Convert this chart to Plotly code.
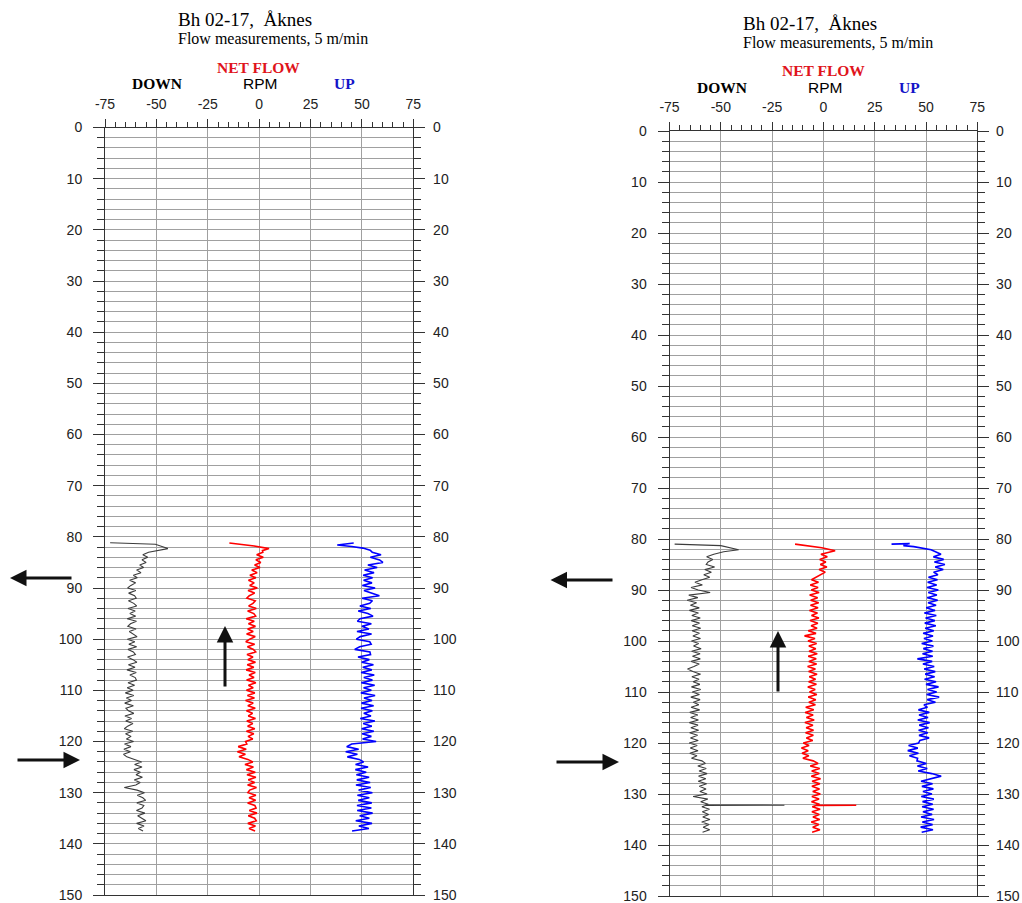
import numpy as np
import plotly.graph_objects as go

W, H = 1022, 903

# ---------------- data (RPM vs depth, m) ----------------
# regular 0.5 m sampling of the log body, 83.0 .. 137.5 m
BODY_DEPTH = list(np.arange(83.0, 138.0, 0.5))

# ---- left log ----
L_DOWN_HEAD_D = [81.15, 81.45, 82.3, 82.8]
L_DOWN_HEAD_V = [-72.5, -50.5, -44.4, -50.8]
L_DOWN = [
    -53.8, -56.6, -54.2, -57.0, -55.0, -58.1, -56.2, -59.6, -57.5, -61.2,
    -59.3, -63.0, -60.1, -62.4, -64.0, -60.0, -63.5, -60.6, -59.8, -63.6,
    -61.0, -59.6, -63.8, -60.3, -62.9, -60.1, -64.2, -59.7, -62.6, -63.9,
    -59.9, -63.2, -61.0, -59.4, -64.1, -60.5, -63.4, -59.6, -63.8, -61.2,
    -60.2, -64.0, -61.4, -59.5, -63.6, -60.4, -64.3, -59.8, -62.9, -60.3,
    -59.7, -63.8, -60.6, -64.2, -61.3, -65.1, -61.0, -64.6, -62.1, -65.4,
    -61.2, -64.8, -63.6, -61.0, -65.3, -62.1, -64.9, -61.4, -64.0, -65.6,
    -61.5, -65.0, -62.3, -64.6, -61.1, -65.5, -62.4, -65.8, -62.6, -66.0,
    -64.4, -60.3, -57.2, -60.6, -57.0, -60.9, -57.8, -59.9, -56.8, -60.7,
    -57.9, -60.0, -65.6, -59.4, -55.8, -59.3, -56.6, -55.2, -59.5, -56.1,
    -57.0, -59.7, -55.6, -59.1, -57.4, -55.1, -59.6, -56.0, -58.8, -56.5,
]
L_NET_HEAD_D = [81.2, 81.5, 81.8, 82.3, 82.7]
L_NET_HEAD_V = [-14.5, -8.0, -2.4, 4.8, 1.6]
L_NET = [
    1.8, -1.2, 2.0, -1.6, 0.8, -2.2, 0.4, -3.6, -1.0, -4.5,
    -1.6, -5.2, -2.4, -4.6, -0.9, -5.4, -2.2, -4.8, -6.0, -1.9,
    -3.0, -5.1, -1.4, -5.6, -2.6, -1.7, -6.3, -2.4, -5.2, -1.8,
    -5.6, -2.9, -6.1, -1.9, -4.6, -6.5, -2.2, -5.7, -2.8, -1.7,
    -5.9, -3.0, -5.5, -1.8, -5.8, -2.6, -6.3, -1.9, -4.9, -2.5,
    -6.1, -1.6, -5.2, -2.9, -6.2, -2.1, -5.7, -2.3, -6.6, -2.9,
    -5.5, -1.9, -6.2, -3.2, -5.3, -1.8, -6.0, -3.1, -5.6, -2.1,
    -6.2, -2.6, -5.4, -3.1, -6.6, -6.0, -10.2, -6.3, -10.6, -6.7,
    -9.8, -5.5, -3.1, -6.9, -2.8, -6.2, -1.9, -5.9, -1.6, -5.3,
    -2.2, -5.6, -1.3, -4.6, -5.5, -1.6, -4.9, -1.7, -5.6, -2.1,
    -1.5, -4.8, -1.1, -5.3, -2.2, -1.4, -5.5, -1.8, -4.9, -2.0,
]
L_UP_HEAD_D = [81.2, 81.6, 81.9, 82.2, 82.6]
L_UP_HEAD_V = [46.0, 38.0, 45.0, 50.5, 54.0]
L_UP = [
    55.0, 59.3, 54.1, 58.6, 60.2, 52.9, 57.4, 51.3, 55.9, 50.6,
    55.2, 50.8, 54.9, 50.2, 56.4, 51.0, 54.6, 58.5, 50.1, 55.1,
    53.8, 49.0, 54.3, 48.2, 52.9, 55.4, 49.1, 47.8, 54.6, 50.0,
    53.4, 47.6, 54.7, 49.2, 47.3, 53.8, 54.5, 48.9, 46.5, 53.9,
    54.2, 48.1, 53.6, 49.9, 55.6, 50.4, 54.8, 49.6, 56.0, 50.9,
    55.1, 49.7, 56.2, 50.8, 54.6, 49.5, 56.4, 51.0, 54.9, 49.8,
    55.7, 49.6, 55.1, 50.9, 54.4, 49.2, 56.3, 50.6, 54.8, 49.9,
    55.8, 50.1, 54.6, 50.3, 56.9, 45.0, 42.6, 48.4, 42.1, 47.8,
    42.9, 48.7, 50.8, 46.9, 53.0, 46.8, 52.1, 47.3, 53.5, 47.5,
    54.0, 47.1, 54.3, 48.4, 55.1, 47.8, 53.6, 48.2, 54.8, 47.6,
    54.6, 47.7, 55.2, 48.9, 53.6, 47.0, 54.9, 48.5, 53.4, 45.2,
]

# ---- right log ----
R_DOWN_HEAD_D = [81.0, 81.3, 82.1, 82.5]
R_DOWN_HEAD_V = [-72.5, -50.0, -41.3, -48.6]
R_DOWN = [
    -53.4, -56.9, -53.9, -56.2, -57.1, -53.0, -57.8, -54.6, -58.3, -55.4,
    -59.2, -62.6, -59.0, -64.5, -61.0, -55.2, -65.6, -61.2, -66.4, -61.8,
    -64.8, -60.5, -65.3, -60.9, -64.1, -60.0, -64.4, -60.4, -63.9, -59.8,
    -64.0, -60.4, -63.6, -59.9, -64.3, -60.8, -63.3, -59.6, -64.2, -60.1,
    -63.8, -60.0, -64.4, -60.5, -63.1, -66.2, -63.6, -59.9, -64.1, -60.6,
    -63.5, -60.2, -64.3, -59.8, -63.9, -60.4, -64.6, -60.1, -63.4, -60.7,
    -64.5, -60.3, -65.1, -61.2, -64.7, -60.9, -65.3, -61.1, -64.6, -60.8,
    -65.2, -61.3, -64.8, -61.0, -65.4, -61.5, -64.9, -61.1, -65.1, -61.6,
    -64.3, -59.2, -57.5, -61.2, -57.1, -60.6, -56.7, -60.8, -57.3, -61.0,
    -56.9, -60.5, -57.2, -60.2, -56.7, -63.5, -56.3, -59.8, -56.1, -59.2,
    -55.5, -59.0, -55.9, -58.8, -55.3, -59.3, -55.7, -58.6, -55.4, -58.9,
]
R_DOWN_SPIKE_D = [132.15, 132.2, 132.25]
R_DOWN_SPIKE_V = [-57.5, -19.0, -57.5]

R_NET_HEAD_D = [81.0, 81.3, 81.7, 82.3, 82.7]
R_NET_HEAD_V = [-13.8, -7.0, -0.8, 5.7, 1.6]
R_NET = [
    -1.2, 1.9, -1.8, 1.2, -1.5, 1.7, -2.1, 0.9, -1.6, -3.4,
    -5.8, -2.4, -6.4, -2.6, -5.9, -2.1, -6.7, -2.8, -6.2, -2.3,
    -6.3, -2.6, -6.8, -2.9, -5.8, -2.2, -6.5, -2.7, -6.0, -3.1,
    -7.4, -3.6, -9.2, -4.1, -7.5, -3.3, -7.1, -3.7, -7.0, -3.0,
    -7.4, -3.5, -7.1, -3.3, -7.7, -3.9, -7.2, -3.1, -6.9, -3.8,
    -7.2, -3.4, -7.6, -4.0, -6.8, -3.2, -7.4, -3.7, -7.1, -3.9,
    -8.6, -4.7, -8.9, -5.0, -8.3, -4.5, -9.0, -5.1, -8.4, -4.8,
    -8.7, -4.9, -8.3, -5.2, -9.8, -7.0, -10.7, -7.4, -10.4, -7.1,
    -10.0, -5.0, -2.6, -6.4, -1.8, -5.7, -2.0, -5.9, -1.4, -5.5,
    -1.7, -5.6, -1.9, -5.2, -1.5, -5.6, -2.1, -5.8, -1.9, -5.4,
    -1.6, -5.6, -2.0, -5.1, -1.8, -5.9, -2.2, -5.2, -1.7, -5.5,
]
R_NET_SPIKE_D = [132.15, 132.2, 132.25]
R_NET_SPIKE_V = [-3.6, 16.0, -3.6]

R_UP_HEAD_D = [81.0, 80.9, 81.3, 81.5, 82.1, 82.6]
R_UP_HEAD_V = [33.2, 42.0, 39.0, 44.0, 52.5, 55.5]
R_UP = [
    57.3, 53.6, 58.6, 54.1, 59.2, 54.5, 58.4, 53.7, 55.8, 51.2,
    55.6, 50.8, 55.2, 50.5, 56.0, 51.1, 55.3, 50.6, 55.7, 51.0,
    54.9, 50.1, 54.4, 49.2, 55.0, 49.8, 54.3, 49.4, 54.8, 49.6,
    53.8, 48.6, 53.4, 49.0, 53.1, 47.9, 53.6, 48.7, 53.2, 48.3,
    53.3, 45.8, 53.0, 48.5, 54.0, 49.1, 54.5, 49.6, 54.2, 49.3,
    54.9, 50.0, 56.1, 50.7, 55.2, 50.3, 56.4, 50.6, 54.6, 49.0,
    50.7, 46.3, 51.6, 46.6, 51.0, 46.0, 51.8, 46.7, 51.2, 46.4,
    50.9, 46.6, 51.5, 47.0, 46.4, 41.5, 46.0, 41.1, 46.3, 41.9,
    45.9, 45.6, 50.2, 45.8, 50.6, 46.2, 52.8, 57.4, 52.0, 47.6,
    53.2, 48.0, 53.6, 48.5, 52.9, 47.7, 53.8, 48.3, 53.3, 48.1,
    53.7, 48.5, 53.0, 47.6, 53.9, 48.2, 53.2, 47.4, 53.4, 47.9,
]

X_TICKS = [-75, -50, -25, 0, 25, 50, 75]
X_TICKTEXT = ["-75", "-50", "-25", "0", "25", "50", "75"]
DEPTH_TICKS = list(range(0, 151, 10))

TITLE = "Bh 02-17,\u00a0 Åknes"
SUBTITLE = "Flow measurements, 5 m/min"

# ---------------- helpers ----------------
def build(head_d, head_v, body_v, spike_d=(), spike_v=()):
    assert len(body_v) == len(BODY_DEPTH), len(body_v)
    d = list(head_d) + [float(x) for x in BODY_DEPTH]
    v = list(head_v) + list(body_v)
    if spike_d:
        idx = max(i for i, dd in enumerate(d) if dd < spike_d[0]) + 1
        d = d[:idx] + list(spike_d) + d[idx:]
        v = v[:idx] + list(spike_v) + v[idx:]
    return d, v


GRID = "#a0a0a0"
AX = "#333333"
SANS = "Liberation Sans, Arial, sans-serif"
SERIF = "Liberation Serif, Times New Roman, serif"

fig = go.Figure()

panels = [
    dict(x="x", y="y", y_right="y3",
         series=[(L_DOWN_HEAD_D, L_DOWN_HEAD_V, L_DOWN, (), (), "#3c3c3c", 1.1),
                 (L_NET_HEAD_D, L_NET_HEAD_V, L_NET, (), (), "#ff0000", 1.6),
                 (L_UP_HEAD_D, L_UP_HEAD_V, L_UP, (), (), "#0000ff", 1.6)]),
    dict(x="x2", y="y2", y_right="y4",
         series=[(R_DOWN_HEAD_D, R_DOWN_HEAD_V, R_DOWN, R_DOWN_SPIKE_D, R_DOWN_SPIKE_V, "#3c3c3c", 1.1),
                 (R_NET_HEAD_D, R_NET_HEAD_V, R_NET, R_NET_SPIKE_D, R_NET_SPIKE_V, "#ff0000", 1.6),
                 (R_UP_HEAD_D, R_UP_HEAD_V, R_UP, (), (), "#0000ff", 1.6)]),
]
for p in panels:
    for hd, hv, bv, sd, sv, col, lw in p["series"]:
        d, v = build(hd, hv, bv, sd, sv)
        fig.add_trace(go.Scatter(x=v, y=d, mode="lines", xaxis=p["x"], yaxis=p["y"],
                                 line=dict(color=col, width=lw), showlegend=False,
                                 hoverinfo="skip"))
    # empty trace so the right-hand depth axis is registered and drawn
    fig.add_trace(go.Scatter(x=[None], y=[None], mode="lines", xaxis=p["x"],
                             yaxis=p["y_right"], showlegend=False, hoverinfo="skip"))


def px_x(p):
    return p / W


def px_y(p):
    return 1 - p / H


def xaxis(domain, anchor):
    return dict(domain=domain, anchor=anchor, side="top", range=[-75, 75],
                automargin=False,
                tickmode="array", tickvals=X_TICKS, ticktext=X_TICKTEXT,
                ticks="outside", ticklen=8, tickwidth=1, tickcolor=AX,
                showline=True, mirror=True, linecolor=AX, linewidth=1,
                showgrid=True, gridcolor=GRID, gridwidth=1, zeroline=False,
                tickfont=dict(family=SANS, size=14, color="#222"),
                ticklabelstandoff=4,
                minor=dict(dtick=5, tick0=-75, ticks="outside", ticklen=5,
                           tickcolor=AX, showgrid=False))


def yaxis(domain, anchor, side, grid, overlay=None, standoff=8):
    d = dict(domain=domain, anchor=anchor, side=side, range=[150, 0],
             automargin=False, autorange=False,
             tickmode="array", tickvals=DEPTH_TICKS,
             ticks="outside", ticklen=11, tickwidth=1, tickcolor=AX,
             showline=True, linecolor=AX, linewidth=1,
             showgrid=grid, gridcolor=GRID, gridwidth=1, zeroline=False,
             showticklabels=True, ticklabeloverflow="allow",
             tickfont=dict(family=SANS, size=14, color="#222"),
             ticklabelstandoff=standoff,
             minor=dict(dtick=2, tick0=0, ticks="outside", ticklen=7,
                        tickcolor=AX, showgrid=grid, gridcolor=GRID, gridwidth=1))
    if overlay:
        d["overlaying"] = overlay
    return d


LX = [px_x(105), px_x(413.3)]
LY = [px_y(895), px_y(127.5)]
RX = [px_x(669.5), px_x(977.3)]
RY = [px_y(896), px_y(131)]

fig.update_layout(
    width=W, height=H, margin=dict(l=0, r=0, t=0, b=0, autoexpand=False),
    paper_bgcolor="white", plot_bgcolor="white",
    xaxis=xaxis(LX, "y"),
    xaxis2=xaxis(RX, "y2"),
    yaxis=yaxis(LY, "x", "left", True),
    yaxis2=yaxis(RY, "x2", "left", True),
    yaxis3=yaxis(LY, "x", "right", False, overlay="y", standoff=5),
    yaxis4=yaxis(RY, "x2", "right", False, overlay="y2", standoff=4),
)

ann = []


def text(t, xp, yp, size, color="black", family=SERIF, bold=False, xanchor="center"):
    if bold:
        t = "<b>" + t + "</b>"
    ann.append(dict(text=t, x=px_x(xp), y=px_y(yp), xref="paper", yref="paper",
                    xanchor=xanchor, yanchor="middle", showarrow=False,
                    borderpad=0,
                    font=dict(family=family, size=size, color=color)))


def arrow(tip, tail):
    ann.append(dict(text="", x=px_x(tip[0]), y=px_y(tip[1]), xref="paper", yref="paper",
                    ax=tail[0] - tip[0], ay=tail[1] - tip[1], axref="pixel", ayref="pixel",
                    showarrow=True, arrowhead=2, arrowsize=1.1, arrowwidth=3,
                    arrowcolor="#111111", standoff=0))


for dx, dy, x0 in [(0, 0, 177), (565, 3.5, 742)]:
    text(TITLE, x0, 20 + dy, 19, xanchor="left")
    text(SUBTITLE, x0, 39 + dy, 16, xanchor="left")
    text("NET FLOW", 258.5 + dx, 67 + dy, 15.5, color="#e0141c", bold=True)
    text("DOWN", 157 + dx, 84 + dy, 15.5, bold=True)
    text("RPM", 259.5 + dx, 84 + dy, 15.5, family=SANS)
    text("UP", 344.5 + dx, 84 + dy, 15.5, color="#1414c8", bold=True)

# arrows (tip, tail) in pixels
arrow((10, 578), (73, 578))
arrow((80, 760), (16, 760))
arrow((225, 626), (225, 688))
arrow((550.5, 580), (614, 580))
arrow((619, 762), (555, 762))
arrow((778, 631), (778, 693))

fig.update_layout(annotations=ann)
fig.write_html("out.html")
